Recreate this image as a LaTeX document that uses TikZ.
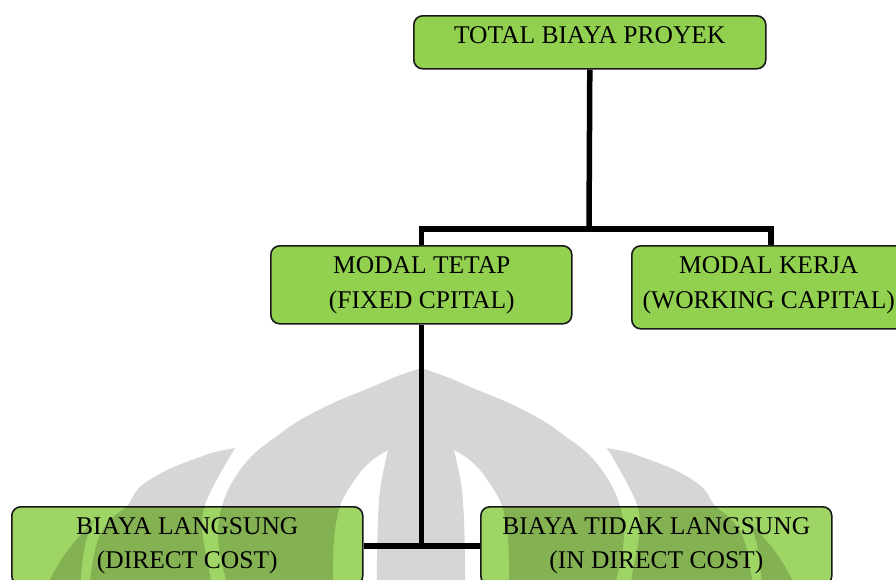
\documentclass[tikz,border=0pt]{standalone}
\usepackage{fontspec}
\setmainfont{Liberation Serif}
\usetikzlibrary{calc}
\definecolor{boxgreen}{RGB}{146,208,80}
\definecolor{boxgreenlight}{RGB}{158,213,100}
\definecolor{edgecol}{RGB}{25,25,25}
\begin{document}
\begin{tikzpicture}[x=1pt,y=-1pt,
  box/.style={draw=edgecol, line width=1.6pt, rounded corners=9pt, fill=boxgreen, inner sep=0pt, anchor=north west},
  lbl/.style={font=\fontsize{25.5}{30}\selectfont, inner sep=0pt, anchor=base},
  conn/.style={line width=5.5pt, line join=miter, line cap=butt, draw=black},
  wm/.style={fill=black, fill opacity=0.16, even odd rule}]
\useasboundingbox (0,0) rectangle (896,579);
\fill[white] (0,0) rectangle (896,579);

% boxes
\node[box, minimum width=352pt, minimum height=53pt] (tot) at (413,15) {};
\node[box, minimum width=301pt, minimum height=78pt] (mt) at (270,245) {};
\node[box, minimum width=278pt, minimum height=83pt] (mk) at (631,245) {};
\node[box, fill=boxgreenlight, minimum width=351pt, minimum height=78pt] (bl) at (11,506) {};
\node[box, fill=boxgreenlight, minimum width=351pt, minimum height=78pt] (btl) at (480,506) {};

% labels
\node[lbl] (totT) at ($(tot.north)+(0,28.6)$) {TOTAL BIAYA PROYEK};
\node[lbl] (mtA) at ($(mt.north)+(0.5,28)$) {MODAL TETAP};
\node[lbl] (mtB) at ($(mt.north)+(0.5,63)$) {(FIXED CPITAL)};
\node[lbl] (mkA) at ($(mk.north)+(-2,28)$) {MODAL KERJA};
\node[lbl] (mkB) at ($(mk.north)+(-2,63)$) {(WORKING CAPITAL)};
\node[lbl] (blA) at ($(bl.north)+(0,28)$) {BIAYA LANGSUNG};
\node[lbl] (blB) at ($(bl.north)+(0,62)$) {(DIRECT COST)};
\node[lbl] (btlA) at ($(btl.north)+(0,28)$) {BIAYA TIDAK LANGSUNG};
\node[lbl] (btlB) at ($(btl.north)+(0,62)$) {(IN DIRECT COST)};

% connectors
\coordinate (j1) at (589,229);
\coordinate (j2) at (mt.south |- bl.east);
\draw[conn] (tot.south) -- (j1);
\draw[conn] (mt.north) |- (j1) -| (mk.north);
\draw[conn] (mt.south) -- (j2);
\draw[conn] (bl.east) -- (btl.west);

% watermark
\begin{scope}
\clip (0,0) rectangle (896,579);
% central shape with two slits
\fill[wm]
  plot[smooth, tension=0.6] coordinates {(230,600) (226,580) (220,555) (218,530) (221,510) (228,490) (240,470) (256,452) (277,436) (300,420) (333,403) (367,389) (395,377) (421,368)}
  -- plot[smooth, tension=0.6] coordinates {(421,368) (447,377) (475,389) (509,403) (542,420) (565,436) (586,452) (602,470) (614,490) (621,510) (624,530) (622,555) (616,580) (612,600)}
  -- cycle
  plot[smooth, tension=0.6] coordinates {(333,600) (333,560) (335,530) (340,506) (348,490) (362,470) (375,458) (388,450)}
  -- plot[smooth, tension=0.6] coordinates {(388,450) (384,468) (380,490) (378,520) (377,560) (377,600)}
  -- cycle
  plot[smooth, tension=0.6] coordinates {(509,600) (509,560) (507,530) (502,506) (494,490) (480,470) (467,458) (454,450)}
  -- plot[smooth, tension=0.6] coordinates {(454,450) (458,468) (462,490) (464,520) (465,560) (465,600)}
  -- cycle;
% left leaf
\fill[wm]
  plot[smooth, tension=0.6] coordinates {(235,448) (215,452) (200,457) (167,470) (140,487) (127,506) (112,518) (100,535) (94,555) (90,580) (88,600)}
  -- plot[smooth, tension=0.6] coordinates {(212,600) (210,575) (205,550) (202,525) (205,505) (214,485) (225,465) (235,448)}
  -- cycle;
% right leaf
\fill[wm]
  plot[smooth, tension=0.6] coordinates {(607,448) (627,452) (642,457) (675,470) (702,487) (715,506) (730,518) (742,535) (748,555) (752,580) (754,600)}
  -- plot[smooth, tension=0.6] coordinates {(630,600) (632,575) (637,550) (640,525) (637,505) (628,485) (617,465) (607,448)}
  -- cycle;
% far left piece
\fill[wm]
  plot[smooth, tension=0.6] coordinates {(100,513) (85,530) (68,550) (55,570) (45,590) (40,600)}
  -- plot[smooth, tension=0.6] coordinates {(80,600) (81,575) (85,545) (92,525) (100,513)}
  -- cycle;
% far right piece
\fill[wm]
  plot[smooth, tension=0.6] coordinates {(742,513) (757,530) (774,550) (787,570) (797,590) (802,600)}
  -- plot[smooth, tension=0.6] coordinates {(762,600) (761,575) (757,545) (750,525) (742,513)}
  -- cycle;
\end{scope}
\end{tikzpicture}
\end{document}
